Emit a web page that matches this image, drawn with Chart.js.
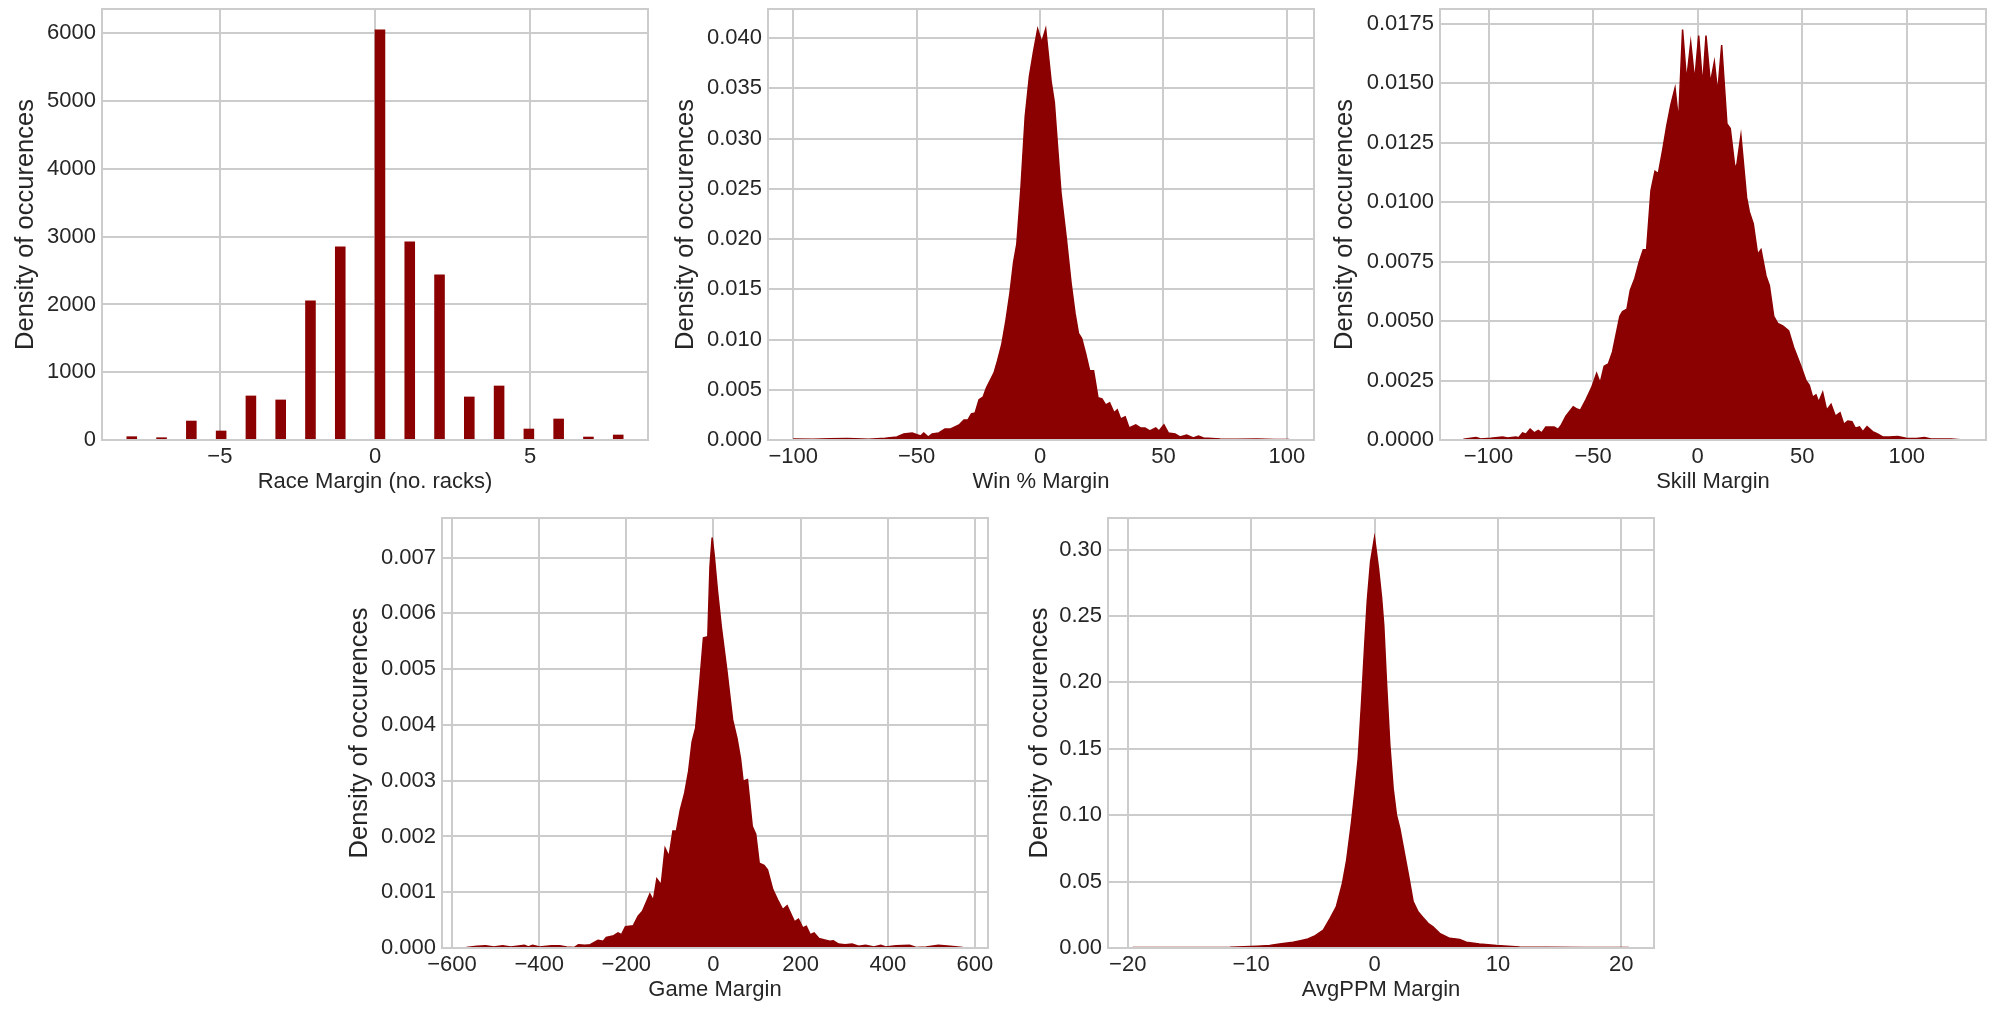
<!DOCTYPE html>
<html lang="en">
  <head>
    <meta charset="UTF-8" />
    <title>Margin distributions</title>
    <script src="https://cdn.jsdelivr.net/npm/chart.js"></script>
    <style>
      html, body { margin: 0; background: #fff; }
      body { width: 2011px; height: 1011px; position: relative; overflow: hidden; }
      .panel { position: absolute; }
    </style>
  </head>
  <body>
    <div class="panel" id="p1"><canvas id="c1"></canvas></div>
    <div class="panel" id="p2"><canvas id="c2"></canvas></div>
    <div class="panel" id="p3"><canvas id="c3"></canvas></div>
    <div class="panel" id="p4"><canvas id="c4"></canvas></div>
    <div class="panel" id="p5"><canvas id="c5"></canvas></div>

    <script>
      // ---- data ----
      const raceMargin = [-8, -7, -6, -5, -4, -3, -2, -1, 0, 1, 2, 3, 4, 5, 6, 7, 8];
      const raceCount = [49, 34, 280, 133, 650, 591, 2052, 2850, 6054, 2924, 2436, 635, 797, 162, 310, 44, 74];
      const raceBinStart = -8;
      const raceBinWidth = 0.32;
      const raceBinTotal = 50;

      const winX = [-100, -92, -85, -78, -72, -69.5, -62.7, -58, -55.2, -51.8, -48.4, -47.1, -45.3, -43.7, -41, -38.5, -36.2, -32.8, -30.8, -29.2, -27.8, -26.3, -24.7, -23, -21.7, -18.6, -17.2, -15.5, -13.8, -12.2, -10.7, -9.4, -7.7, -6, -4.3, -2.6, -0.95, 0.7, 2.3, 4.5, 5.8, 7.2, 8.5, 10.6, 12.6, 14.2, 15.6, 16.9, 18.5, 20.1, 21.7, 23.5, 25.1, 26.6, 28.2, 30, 31.3, 32.7, 34.5, 36.1, 38.8, 40.7, 42.5, 44.5, 46.9, 48.2, 50.2, 52, 54.7, 56.7, 59.4, 62.1, 64.2, 66.2, 73, 80, 88, 95, 101];
      const winY = [0.0001, 0.00008, 0.00012, 0.00015, 0.0001, 0.00007, 0.00017, 0.0003, 0.0006, 0.0007, 0.0004, 0.0007, 0.0003, 0.0006, 0.0007, 0.0011, 0.0011, 0.0015, 0.002, 0.002, 0.0026, 0.0027, 0.004, 0.0043, 0.0052, 0.0067, 0.0079, 0.0095, 0.0119, 0.0146, 0.0177, 0.0195, 0.0252, 0.0322, 0.0362, 0.0387, 0.0409, 0.0396, 0.0409, 0.0357, 0.0336, 0.0289, 0.0246, 0.0202, 0.0156, 0.0126, 0.0106, 0.0101, 0.0086, 0.0069, 0.0069, 0.0042, 0.0041, 0.0035, 0.0037, 0.0027, 0.003, 0.0021, 0.0023, 0.0012, 0.0015, 0.0012, 0.0012, 0.0009, 0.0012, 0.0009, 0.0015, 0.0007, 0.0006, 0.0003, 0.0005, 0.0002, 0.0004, 0.0002, 0.0001, 0.00008, 0.0001, 0.00006, 0.00005];

      const skillX = [-112, -106, -103.7, -98.9, -93.3, -90.9, -86.9, -85.6, -83.7, -82.1, -80.1, -78.1, -76.2, -74.6, -72.6, -68.6, -66.7, -65.4, -63, -59.5, -57.7, -56.1, -53.4, -50.7, -48.3, -46.6, -44.7, -42.7, -40.7, -37.2, -35.9, -33.8, -32.2, -30, -27.9, -26, -24.4, -22.3, -20.4, -18.8, -16.7, -14.8, -12.8, -10.8, -9.1, -7.2, -5.3, -3.3, -1.4, 0.5, 2.4, 4, 6.1, 8, 9.6, 11.5, 14, 15.6, 17.9, 18.8, 20.7, 23.4, 24.7, 26.6, 28.7, 30.3, 32.7, 34.3, 36.4, 38.3, 40.7, 43.5, 45.9, 49.4, 51.8, 53.4, 55, 56.6, 57.9, 59.8, 61.7, 63.8, 65.9, 68.1, 69.9, 71.8, 73.8, 75.4, 77.4, 79, 81, 83.7, 85.8, 88.5, 91.7, 95.7, 99.7, 104.5, 108.5, 111.6, 116.4, 121.2, 125.7];
      const skillY = [0.00003, 0.0001, 0.00004, 0.00007, 0.00013, 0.00008, 0.00013, 0.0001, 0.0003, 0.00024, 0.00046, 0.0003, 0.0004, 0.0003, 0.00055, 0.00055, 0.00045, 0.0006, 0.001, 0.0014, 0.0013, 0.00125, 0.0017, 0.0022, 0.0028, 0.0024, 0.0031, 0.0032, 0.0037, 0.0052, 0.0054, 0.0055, 0.0063, 0.0068, 0.0075, 0.008, 0.008, 0.0105, 0.0113, 0.0112, 0.0122, 0.0132, 0.0141, 0.0148, 0.0134, 0.01726, 0.0151, 0.0167, 0.0151, 0.017, 0.0149, 0.017, 0.015, 0.0159, 0.0146, 0.0166, 0.0133, 0.0131, 0.0114, 0.0116, 0.0128, 0.0102, 0.0096, 0.0091, 0.0078, 0.008, 0.0069, 0.0065, 0.0052, 0.0049, 0.0048, 0.0046, 0.0039, 0.0031, 0.0025, 0.0023, 0.0018, 0.0019, 0.0016, 0.002, 0.00125, 0.0015, 0.001, 0.00115, 0.00066, 0.0008, 0.00077, 0.0005, 0.00055, 0.00035, 0.00056, 0.00035, 0.00027, 0.00013, 0.00013, 0.00015, 0.00007, 0.00006, 0.0001, 0.00004, 0.00004, 0.00004, 0.00001];

      const gameX = [-567, -543, -523, -504, -484, -465, -434, -425, -415, -399, -372, -353, -337, -319, -310, -295, -283, -265, -253, -246, -229, -219, -211, -202, -184, -173, -163, -146, -138, -130, -120, -111, -102, -93, -85, -76, -66, -57, -49, -41, -31, -23, -13, -8, -3, 1.6, 9, 18, 31, 44, 54, 62, 68, 78, 89, 97, 105, 116, 124, 136, 147, 159, 169, 186, 195, 205, 213, 222, 231, 242, 253, 267, 275, 287, 302, 318, 333, 349, 368, 384, 395, 419, 450, 465, 488, 516, 543, 572];
      const gameY = [0.00001, 0.00003, 0.00004, 0.00002, 0.00004, 0.00002, 0.00005, 0.00002, 0.00005, 0.00002, 0.00004, 0.00004, 0.00002, 0.00001, 0.00006, 0.00005, 0.00006, 0.00014, 0.00012, 0.00019, 0.00022, 0.00027, 0.00024, 0.00038, 0.0004, 0.00057, 0.00066, 0.00097, 0.00085, 0.00124, 0.00113, 0.00179, 0.00164, 0.0021, 0.0021, 0.00248, 0.00278, 0.00317, 0.0037, 0.00394, 0.00481, 0.00556, 0.00558, 0.00684, 0.00736, 0.00705, 0.00642, 0.00576, 0.00496, 0.00409, 0.00376, 0.0034, 0.00299, 0.00302, 0.00218, 0.00204, 0.00152, 0.00148, 0.0014, 0.00105, 0.00087, 0.00069, 0.00076, 0.00047, 0.00052, 0.00036, 0.00039, 0.00024, 0.00027, 0.00017, 0.00015, 0.00012, 0.00013, 0.00007, 0.00006, 0.00007, 0.00003, 0.00005, 0.00002, 0.00005, 0.00002, 0.00004, 0.00005, 0.00001, 0.00002, 0.00005, 0.00003, 0.00001];

      const ppmX = [-19.6, -15, -11.7, -9.5, -8.5, -7.7, -6.6, -6.0, -5.4, -4.8, -4.15, -3.6, -3.1, -2.6, -2.26, -1.86, -1.59, -1.32, -1.05, -0.78, -0.59, -0.32, 0, 0.32, 0.57, 0.75, 0.97, 1.24, 1.51, 1.78, 2.05, 2.45, 2.8, 3.13, 3.53, 3.94, 4.34, 4.74, 5.28, 6.09, 6.9, 7.44, 8.5, 9.9, 11.75, 14, 17, 20.6];
      const ppmY = [0.0003, 0.0004, 0.0006, 0.0013, 0.0018, 0.003, 0.0043, 0.0055, 0.0068, 0.0093, 0.0135, 0.0223, 0.031, 0.0487, 0.066, 0.095, 0.118, 0.143, 0.185, 0.231, 0.261, 0.291, 0.309, 0.286, 0.264, 0.243, 0.2, 0.153, 0.12, 0.1, 0.09, 0.07, 0.0524, 0.0349, 0.0273, 0.0228, 0.0186, 0.016, 0.011, 0.0073, 0.0065, 0.0043, 0.003, 0.0018, 0.0008, 0.0005, 0.0004, 0.0003];

      // ticks
      const raceXTicks = [-5, 0, 5];
      const raceYTicks = [0, 1000, 2000, 3000, 4000, 5000, 6000];
      const winXTicks = [-100, -50, 0, 50, 100];
      const winYTicks = [0, 0.005, 0.01, 0.015, 0.02, 0.025, 0.03, 0.035, 0.04];
      const skillXTicks = [-100, -50, 0, 50, 100];
      const skillYTicks = [0, 0.0025, 0.005, 0.0075, 0.01, 0.0125, 0.015, 0.0175];
      const gameXTicks = [-600, -400, -200, 0, 200, 400, 600];
      const gameYTicks = [0, 0.001, 0.002, 0.003, 0.004, 0.005, 0.006, 0.007];
      const ppmXTicks = [-20, -10, 0, 10, 20];
      const ppmYTicks = [0, 0.05, 0.1, 0.15, 0.2, 0.25, 0.3];

      // ---- style / layout ----
      const RED = "#8b0000";
      const GRID = "#cccccc";
      Chart.defaults.font.family = "'Liberation Sans', Arial, sans-serif";
      Chart.defaults.color = "#262626";

      const Y_BOX = 115, X_BOX = 60, PAD_TOP = 25, PAD_RIGHT = 30;
      const AX_W = 546;
      const TICK_SIZE = 22;

      const frame = {
        id: "frame",
        afterDatasetsDraw(chart) {
          const a = chart.chartArea;
          const ctx = chart.ctx;
          ctx.save();
          ctx.strokeStyle = GRID;
          ctx.lineWidth = 2;
          ctx.strokeRect(a.left, a.top, a.right - a.left, a.bottom - a.top);
          ctx.restore();
        },
      };

      const fmt = (dec) => (v) => Number(v).toFixed(dec).replace("-", "\u2212");

      const makeChart = (n, o) => {
        const panel = document.getElementById("p" + n);
        const canvas = document.getElementById("c" + n);
        panel.style.left = o.left - Y_BOX + "px";
        panel.style.top = o.top - PAD_TOP + "px";
        canvas.width = Y_BOX + AX_W + PAD_RIGHT;
        canvas.height = PAD_TOP + o.height + X_BOX;

        const isBar = o.type === "bar";
        new Chart(canvas.getContext("2d"), {
          type: o.type,
          data: {
            datasets: [
              isBar
                ? { data: o.points, backgroundColor: RED, borderWidth: 0, barPercentage: 1, categoryPercentage: 1 }
                : { data: o.points, borderColor: RED, backgroundColor: RED, borderWidth: 1.5, fill: "origin", pointRadius: 0, tension: 0 },
            ],
          },
          options: {
            responsive: false,
            animation: false,
            events: [],
            layout: { padding: { top: PAD_TOP, right: PAD_RIGHT, left: 0, bottom: 0 } },
            plugins: { legend: { display: false }, tooltip: { enabled: false } },
            scales: {
              x: {
                type: "linear",
                min: o.xRange[0],
                max: o.xRange[1],
                offset: false,
                afterBuildTicks: (s) => { s.ticks = o.xTicks.map((value) => ({ value })); },
                afterFit: (s) => { s.height = X_BOX; },
                grid: { color: GRID, lineWidth: 2, drawTicks: false, offset: false },
                border: { display: false },
                ticks: { font: { size: TICK_SIZE }, padding: 4, maxRotation: 0, autoSkip: false, callback: fmt(0) },
                title: { display: true, text: o.xTitle, font: { size: TICK_SIZE }, padding: { top: 0, bottom: 5 } },
              },
              y: {
                type: "linear",
                min: 0,
                max: o.yMax,
                afterBuildTicks: (s) => { s.ticks = o.yTicks.map((value) => ({ value })); },
                afterFit: (s) => { s.width = Y_BOX; },
                grid: { color: GRID, lineWidth: 2, drawTicks: false },
                border: { display: false },
                ticks: { font: { size: TICK_SIZE }, padding: 6, autoSkip: false, callback: fmt(o.yDec) },
                title: { display: true, text: "Density of occurences", font: { size: 25.5 }, padding: { top: o.yTitlePad, bottom: 0 } },
              },
            },
          },
          plugins: [frame],
        });
      };

      const toPoints = (xs, ys) => xs.map((x, i) => ({ x, y: ys[i] }));

      // histogram of race margins: 50 equal bins over [-8, 8]
      const raceBins = Array.from({ length: raceBinTotal }, (_, i) => ({ x: raceBinStart + (i + 0.5) * raceBinWidth, y: 0 }));
      raceMargin.forEach((m, i) => {
        const k = Math.min(raceBinTotal - 1, Math.floor((m - raceBinStart) / raceBinWidth + 1e-9));
        raceBins[k].y += raceCount[i];
      });

      makeChart(1, { type: "bar", points: raceBins, left: 102, top: 9, height: 431, xRange: [-8.8, 8.8], yMax: 6360, xTicks: raceXTicks, yTicks: raceYTicks, yDec: 0, xTitle: "Race Margin (no. racks)", yTitlePad: 23.7 });
      makeChart(2, { type: "line", points: toPoints(winX, winY), left: 768, top: 9, height: 431, xRange: [-110.2, 111], yMax: 0.0429, xTicks: winXTicks, yTicks: winYTicks, yDec: 3, xTitle: "Win % Margin", yTitlePad: 17.2 });
      makeChart(3, { type: "line", points: toPoints(skillX, skillY), left: 1440, top: 9, height: 431, xRange: [-123.2, 137.9], yMax: 0.01812, xTicks: skillXTicks, yTicks: skillYTicks, yDec: 4, xTitle: "Skill Margin", yTitlePad: 5.1 });
      makeChart(4, { type: "line", points: toPoints(gameX, gameY), left: 442, top: 518, height: 430, xRange: [-623, 630], yMax: 0.00771, xTicks: gameXTicks, yTicks: gameYTicks, yDec: 3, xTitle: "Game Margin", yTitlePad: 17.4 });
      makeChart(5, { type: "line", points: toPoints(ppmX, ppmY), left: 1108, top: 518, height: 430, xRange: [-21.6, 22.65], yMax: 0.3238, xTicks: ppmXTicks, yTicks: ppmYTicks, yDec: 2, xTitle: "AvgPPM Margin", yTitlePad: 31.7 });
    </script>
  </body>
</html>
